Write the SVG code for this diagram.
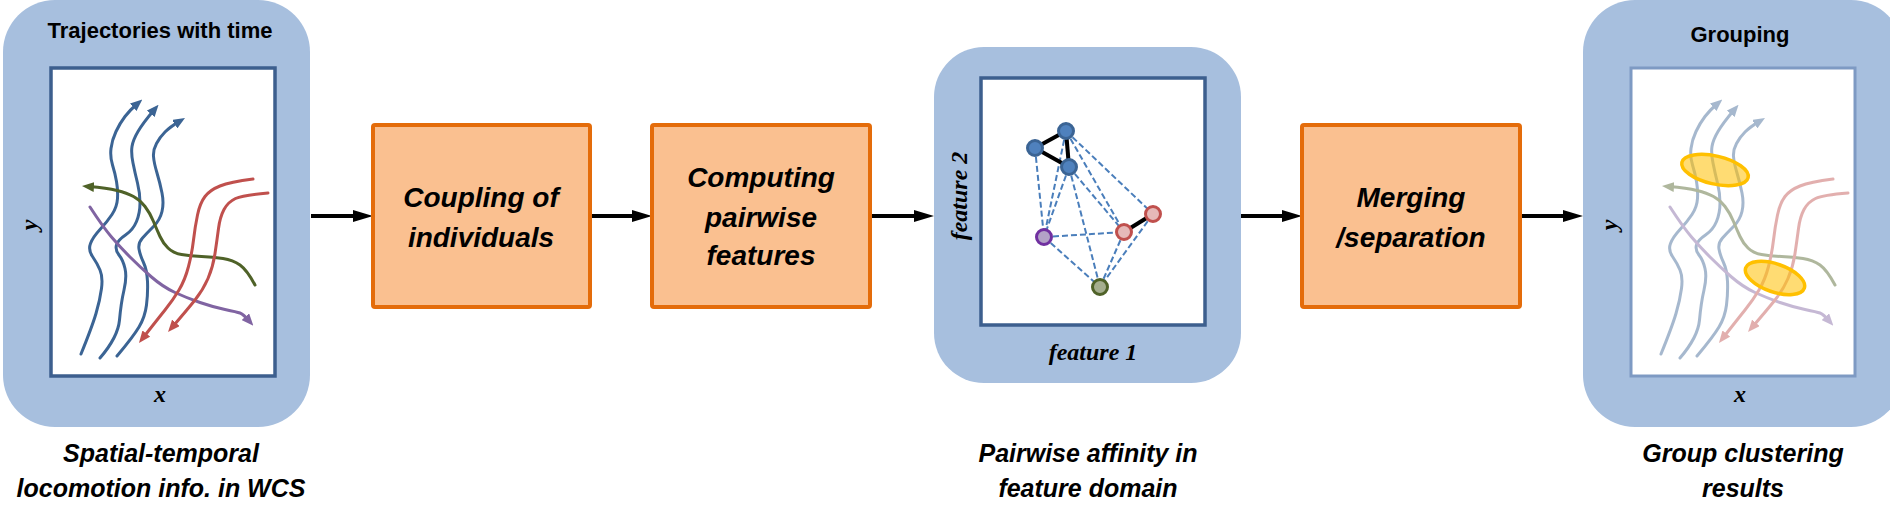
<svg xmlns="http://www.w3.org/2000/svg" xmlns:xlink="http://www.w3.org/1999/xlink" width="1890" height="528" viewBox="0 0 1890 528">
<style>
.panel{fill:#A7BFDE}
.plot{fill:#FFFFFF;stroke:#3D5F8E;stroke-width:3.5}
.plotfade{fill:#FFFFFF;stroke:#7E9AC3;stroke-width:3}
.title{font-family:"Liberation Sans",Arial,sans-serif;font-weight:bold;font-size:22px;fill:#000;text-anchor:middle}
.cap{font-family:"Liberation Sans",Arial,sans-serif;font-weight:bold;font-style:italic;font-size:25px;fill:#000;text-anchor:middle}
.box{fill:#FAC090;stroke:#E46C0A;stroke-width:4}
.boxt{font-family:"Liberation Sans",Arial,sans-serif;font-weight:bold;font-style:italic;font-size:28px;fill:#000;text-anchor:middle}
.axis{font-family:"Liberation Serif","Times New Roman",serif;font-weight:bold;font-style:italic;font-size:24px;fill:#000;text-anchor:middle}
.tr{fill:none;stroke-width:3;stroke-linecap:round;stroke-linejoin:round}
.conn{stroke:#000;stroke-width:4;fill:none}
.dash{stroke:#4A7EBB;stroke-width:2;stroke-dasharray:6 3;fill:none}
.solid{stroke:#000;stroke-width:4;fill:none}
.ell{fill:#FFC000;fill-opacity:0.55;stroke:#FFC000;stroke-width:3.5}
</style>
<defs>
<marker id="ah" markerUnits="userSpaceOnUse" viewBox="0 0 20 12" markerWidth="20" markerHeight="12" refX="10" refY="6" orient="auto"><path d="M0,0 L20,6 L0,12 z" fill="#000"/></marker>
<marker id="mb" markerUnits="userSpaceOnUse" viewBox="0 0 12 10" markerWidth="12" markerHeight="10" refX="5" refY="5" orient="auto"><path d="M0,0 L12,5 L0,10 z" fill="#3B6494"/></marker>
<marker id="mr" markerUnits="userSpaceOnUse" viewBox="0 0 12 10" markerWidth="12" markerHeight="10" refX="5" refY="5" orient="auto"><path d="M0,0 L12,5 L0,10 z" fill="#C0504D"/></marker>
<marker id="mg" markerUnits="userSpaceOnUse" viewBox="0 0 12 10" markerWidth="12" markerHeight="10" refX="5" refY="5" orient="auto"><path d="M0,0 L12,5 L0,10 z" fill="#4F6228"/></marker>
<marker id="mp" markerUnits="userSpaceOnUse" viewBox="0 0 12 10" markerWidth="12" markerHeight="10" refX="5" refY="5" orient="auto"><path d="M0,0 L12,5 L0,10 z" fill="#8064A2"/></marker>
<g id="traj">
<path class="tr" stroke="#3B6494" marker-end="url(#mb)" d="M81,354 Q92,327 96,313.5 Q100,300 101.5,288.5 Q103,277 100,270 Q97,263 92.5,256.5 Q88,250 90.5,243.5 Q93,237 100,229.5 Q107,222 112,214.5 Q117,207 117.5,198.5 Q118,190 116.5,181.5 Q115,173 112.5,165 Q110,157 111,148.5 Q112,140 116,131.5 Q120,123 125,116.5 Q130,110 137,104"/>
<path class="tr" stroke="#3B6494" marker-end="url(#mb)" d="M100,358 Q118,337 119.5,320 Q121,303 124,290 Q127,277 125,268.5 Q123,260 119,255 Q115,250 116.5,245 Q118,240 125.5,235 Q133,230 136.5,221.5 Q140,213 140,203 Q140,193 137.5,183 Q135,173 133,163 Q131,153 132,146.5 Q133,140 138,131.5 Q143,123 154,110"/>
<path class="tr" stroke="#3B6494" marker-end="url(#mb)" d="M117,356 Q133,337 139,327 Q145,317 146.5,305 Q148,293 147.5,281.5 Q147,270 143.5,262.5 Q140,255 139,249 Q138,243 142.5,238 Q147,233 153.5,226.5 Q160,220 162,211.5 Q164,203 162,193 Q160,183 157,173 Q154,163 153.5,156.5 Q153,150 156.5,143.5 Q160,137 165,132 Q170,127 179,121.6"/>
<path class="tr" stroke="#4F6228" marker-end="url(#mg)" d="M255,285 Q247,270 240,265 Q233,260 223,258.5 Q213,257 201.5,256.5 Q190,256 181.5,254.5 Q173,253 168,248 Q163,243 160,236.5 Q157,230 153.5,221.5 Q150,213 145,206.5 Q140,200 133.5,196.5 Q127,193 117,190.5 Q107,188 89,186.6"/>
<path class="tr" stroke="#8064A2" marker-end="url(#mp)" d="M90,207 Q103,227 111.5,237 Q120,247 130,257 Q140,267 151.5,277 Q163,287 175,292.5 Q187,298 200,302.5 Q213,307 225,309.5 Q237,312 240,313 Q243,314 248.7,320.4"/>
<path class="tr" stroke="#C0504D" marker-end="url(#mr)" d="M253,179 Q230,182 220,186 Q210,190 205,196.5 Q200,203 197.5,215 Q195,227 193.5,240 Q192,253 188.5,266.5 Q185,280 179,290 Q173,300 165,310 Q157,320 143.3,337.5"/>
<path class="tr" stroke="#C0504D" marker-end="url(#mr)" d="M268,193 Q243,195 235.5,198.5 Q228,202 224,209.5 Q220,217 218.5,228.5 Q217,240 215,253.5 Q213,267 208,278.5 Q203,290 195,300 Q187,310 172.6,326.7"/>
</g>
</defs>

<g id="connectors">
<line class="conn" x1="311" y1="216" x2="363" y2="216" marker-end="url(#ah)"/>
<line class="conn" x1="590" y1="216" x2="642" y2="216" marker-end="url(#ah)"/>
<line class="conn" x1="870" y1="216" x2="924" y2="216" marker-end="url(#ah)"/>
<line class="conn" x1="1241" y1="216" x2="1292" y2="216" marker-end="url(#ah)"/>
<line class="conn" x1="1520" y1="216" x2="1573" y2="216" marker-end="url(#ah)"/>
</g>

<g id="node-trajectories">
<rect class="panel" x="3" y="0" width="307" height="427" rx="52"/>
<text class="title" x="160" y="38">Trajectories with time</text>
<rect class="plot" x="51" y="68" width="224" height="308"/>
<use xlink:href="#traj"/>
<text class="axis" x="160" y="402">x</text>
<text class="axis" transform="translate(37,225) rotate(-90)">y</text>
<text class="cap" x="161" y="462">Spatial-temporal</text>
<text class="cap" x="161" y="497">locomotion info. in WCS</text>
</g>

<g id="node-coupling">
<rect class="box" x="373" y="125" width="217" height="182" rx="2"/>
<text class="boxt" x="481" y="207">Coupling of</text>
<text class="boxt" x="481" y="247">individuals</text>
</g>

<g id="node-computing">
<rect class="box" x="652" y="125" width="218" height="182" rx="2"/>
<text class="boxt" x="761" y="187">Computing</text>
<text class="boxt" x="761" y="227">pairwise</text>
<text class="boxt" x="761" y="265">features</text>
</g>

<g id="node-affinity">
<rect class="panel" x="934" y="47" width="307" height="336" rx="50"/>
<rect class="plot" x="981" y="78" width="224" height="247"/>
<g>
<line class="dash" x1="1035" y1="148" x2="1044" y2="237"/>
<line class="dash" x1="1066" y1="131" x2="1044" y2="237"/>
<line class="dash" x1="1069" y1="167" x2="1044" y2="237"/>
<line class="dash" x1="1066" y1="131" x2="1153" y2="214"/>
<line class="dash" x1="1066" y1="131" x2="1124" y2="232"/>
<line class="dash" x1="1069" y1="167" x2="1124" y2="232"/>
<line class="dash" x1="1069" y1="167" x2="1100" y2="287"/>
<line class="dash" x1="1044" y1="237" x2="1124" y2="232"/>
<line class="dash" x1="1044" y1="237" x2="1100" y2="287"/>
<line class="dash" x1="1124" y1="232" x2="1100" y2="287"/>
<line class="dash" x1="1153" y1="214" x2="1100" y2="287"/>
<line class="solid" x1="1035" y1="148" x2="1066" y2="131"/>
<line class="solid" x1="1066" y1="131" x2="1069" y2="167"/>
<line class="solid" x1="1035" y1="148" x2="1069" y2="167"/>
<line class="solid" x1="1124" y1="232" x2="1153" y2="214"/>
<circle cx="1035" cy="148" r="7.5" fill="#4F81BD" stroke="#3B6494" stroke-width="3"/>
<circle cx="1066" cy="131" r="7.5" fill="#4F81BD" stroke="#3B6494" stroke-width="3"/>
<circle cx="1069" cy="167" r="7.5" fill="#4F81BD" stroke="#3B6494" stroke-width="3"/>
<circle cx="1044" cy="237" r="7.5" fill="#B3A2C7" stroke="#7030A0" stroke-width="3"/>
<circle cx="1124" cy="232" r="7.5" fill="#E6B9B8" stroke="#C0504D" stroke-width="3"/>
<circle cx="1153" cy="214" r="7.5" fill="#E6B9B8" stroke="#C0504D" stroke-width="3"/>
<circle cx="1100" cy="287" r="7.5" fill="#A5AE8F" stroke="#4F6228" stroke-width="3"/>
</g>
<text class="axis" x="1093" y="360">feature 1</text>
<text class="axis" transform="translate(967,196) rotate(-90)">feature 2</text>
<text class="cap" x="1088" y="462">Pairwise affinity in</text>
<text class="cap" x="1088" y="497">feature domain</text>
</g>

<g id="node-merging">
<rect class="box" x="1302" y="125" width="218" height="182" rx="2"/>
<text class="boxt" x="1411" y="207">Merging</text>
<text class="boxt" x="1411" y="247">/separation</text>
</g>

<g id="node-grouping">
<rect class="panel" x="1583" y="0" width="320" height="427" rx="52"/>
<text class="title" x="1740" y="42">Grouping</text>
<rect class="plotfade" x="1631" y="68" width="224" height="308"/>
<use xlink:href="#traj" transform="translate(1580,0)" opacity="0.45"/>
<ellipse class="ell" cx="0" cy="0" rx="34" ry="14" transform="translate(1715,170) rotate(13)"/>
<ellipse class="ell" cx="0" cy="0" rx="31" ry="14" transform="translate(1775,278) rotate(19)"/>
<text class="axis" x="1740" y="402">x</text>
<text class="axis" transform="translate(1617,225) rotate(-90)">y</text>
<text class="cap" x="1743" y="462">Group clustering</text>
<text class="cap" x="1743" y="497">results</text>
</g>
</svg>
